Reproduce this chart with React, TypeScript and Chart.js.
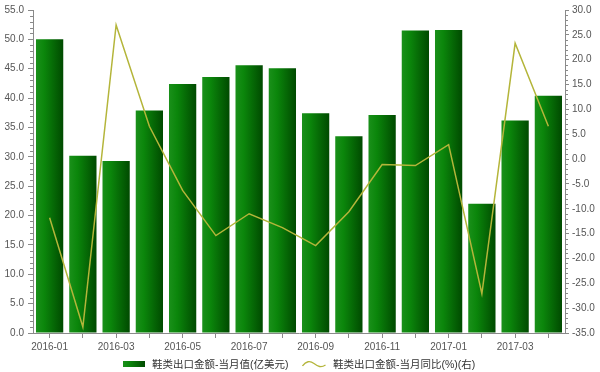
import React, { useEffect, useRef } from 'react';
import { Chart, registerables } from 'chart.js';

Chart.register(...registerables);

const categories = [
  '2016-01', '2016-02', '2016-03', '2016-04', '2016-05', '2016-06', '2016-07', '2016-08',
  '2016-09', '2016-10', '2016-11', '2016-12', '2017-01', '2017-02', '2017-03', '2017-04',
];
const monthlyValue = [50.0, 30.2, 29.3, 37.9, 42.4, 43.6, 45.6, 45.1, 37.4, 33.5, 37.1, 51.5, 51.6, 22.0, 36.2, 40.4];
const yoyChange = [-11.8, -33.8, 27.0, 6.6, -6.3, -15.4, -11.0, -13.8, -17.4, -10.6, -1.1, -1.3, 2.9, -27.1, 23.3, 6.6];
const seriesNames = ['鞋类出口金额-当月值(亿美元)', '鞋类出口金额-当月同比(%)(右)'];
const leftAxisRange = [0, 55, 5];
const rightAxisRange = [-35, 30, 5];

const FONT = '"Liberation Sans", Arial, "Noto Sans CJK SC", sans-serif';
const AXIS_COLOR = '#8a8a8a';
const TEXT_COLOR = '#555';
const LINE_COLOR = '#b4b53a';
const BAR_PCT = 0.82;

function barGradient(ctx: CanvasRenderingContext2D, x0: number, x1: number) {
  const g = ctx.createLinearGradient(x0, 0, x1, 0);
  g.addColorStop(0, '#1a901a');
  g.addColorStop(0.3, '#0b860b');
  g.addColorStop(1, '#004a00');
  return g;
}

const minorTicks = {
  id: 'minorTicks',
  afterDraw(chart: any) {
    const ctx = chart.ctx;
    const yl = chart.scales.y;
    const yr = chart.scales.y1;
    ctx.save();
    ctx.strokeStyle = AXIS_COLOR;
    ctx.lineWidth = 1;
    for (let v = leftAxisRange[0]; v <= leftAxisRange[1]; v++) {
      if (v % leftAxisRange[2] === 0) continue;
      const py = Math.round(yl.getPixelForValue(v)) + 0.5;
      ctx.beginPath();
      ctx.moveTo(chart.chartArea.left - 3, py);
      ctx.lineTo(chart.chartArea.left, py);
      ctx.stroke();
    }
    for (let v = rightAxisRange[0]; v <= rightAxisRange[1]; v++) {
      if (v % rightAxisRange[2] === 0) continue;
      const py = Math.round(yr.getPixelForValue(v)) + 0.5;
      ctx.beginPath();
      ctx.moveTo(chart.chartArea.right, py);
      ctx.lineTo(chart.chartArea.right + 3, py);
      ctx.stroke();
    }
    ctx.restore();
  },
};

export default function App() {
  const canvasRef = useRef<HTMLCanvasElement | null>(null);

  useEffect(() => {
    if (!canvasRef.current) return;
    const chart = new Chart(canvasRef.current, {
      type: 'bar',
      data: {
        labels: categories,
        datasets: [
          {
            type: 'line',
            label: seriesNames[1],
            data: yoyChange,
            yAxisID: 'y1',
            borderColor: LINE_COLOR,
            borderWidth: 1.5,
            pointRadius: 0,
            tension: 0,
            order: 0,
          } as any,
          {
            type: 'bar',
            label: seriesNames[0],
            data: monthlyValue,
            yAxisID: 'y',
            categoryPercentage: 1,
            barPercentage: BAR_PCT,
            order: 1,
            backgroundColor: (c: any) => {
              const ch = c.chart;
              const xs = ch.scales && ch.scales.x;
              if (!ch.chartArea || !xs || c.dataIndex === undefined) return '#0a7a0a';
              const cx = xs.getPixelForValue(c.dataIndex);
              const w = (xs.width / categories.length) * BAR_PCT;
              return barGradient(ch.ctx, cx - w / 2, cx + w / 2);
            },
          } as any,
        ],
      },
      options: {
        animation: false,
        responsive: false,
        maintainAspectRatio: false,
        layout: { padding: { top: 5, left: 0, right: 0, bottom: 0 } },
        plugins: { legend: { display: false }, tooltip: { enabled: false } },
        scales: {
          x: {
            offset: true,
            grid: { display: true, drawOnChartArea: false, tickLength: 5, color: AXIS_COLOR, offset: false },
            border: { display: true, color: AXIS_COLOR },
            ticks: {
              autoSkip: false,
              maxRotation: 0,
              padding: 3,
              color: TEXT_COLOR,
              font: { family: FONT, size: 10 },
              callback: (_v: any, i: number) => (i % 2 === 0 ? categories[i] : ''),
            },
            afterFit: (s: any) => { s.height = 39; },
          },
          y: {
            position: 'left',
            min: leftAxisRange[0],
            max: leftAxisRange[1],
            grid: { display: true, drawOnChartArea: false, tickLength: 5, color: AXIS_COLOR },
            border: { display: true, color: AXIS_COLOR },
            ticks: {
              stepSize: leftAxisRange[2],
              padding: 4,
              color: TEXT_COLOR,
              font: { family: FONT, size: 10 },
              callback: (v: any) => Number(v).toFixed(1),
            },
            afterFit: (s: any) => { s.width = 33; },
          },
          y1: {
            position: 'right',
            min: rightAxisRange[0],
            max: rightAxisRange[1],
            grid: { display: true, drawOnChartArea: false, tickLength: 4, color: AXIS_COLOR },
            border: { display: true, color: AXIS_COLOR },
            ticks: {
              stepSize: rightAxisRange[2],
              padding: 3,
              color: TEXT_COLOR,
              font: { family: FONT, size: 10 },
              callback: (v: any) => Number(v).toFixed(1),
            },
            afterFit: (s: any) => { s.width = 35; },
          },
        },
      },
      plugins: [minorTicks],
    });
    return () => chart.destroy();
  }, []);

  const textStyle: React.CSSProperties = {
    position: 'absolute',
    top: 357,
    fontFamily: FONT,
    fontSize: 10.5,
    lineHeight: '14px',
    color: '#333',
    whiteSpace: 'nowrap',
  };

  return (
    <div style={{ position: 'absolute', left: 0, top: 0, width: 600, height: 372, background: '#fff' }}>
      <canvas ref={canvasRef} width={600} height={372} style={{ display: 'block', width: 600, height: 372 }} />
      <div
        style={{
          position: 'absolute',
          left: 123,
          top: 361,
          width: 22,
          height: 6,
          background: 'linear-gradient(to right, #1a901a 0%, #0b860b 30%, #004a00 100%)',
        }}
      />
      <div style={{ ...textStyle, left: 152 }}>{seriesNames[0]}</div>
      <svg style={{ position: 'absolute', left: 302, top: 358, width: 24, height: 12 }} viewBox="0 0 24 12">
        <path d="M0.5,8 C4,3 8,2.5 12,5.5 S19,10 23.5,7" fill="none" stroke={LINE_COLOR} strokeWidth={1.3} />
      </svg>
      <div style={{ ...textStyle, left: 333 }}>{seriesNames[1]}</div>
    </div>
  );
}
